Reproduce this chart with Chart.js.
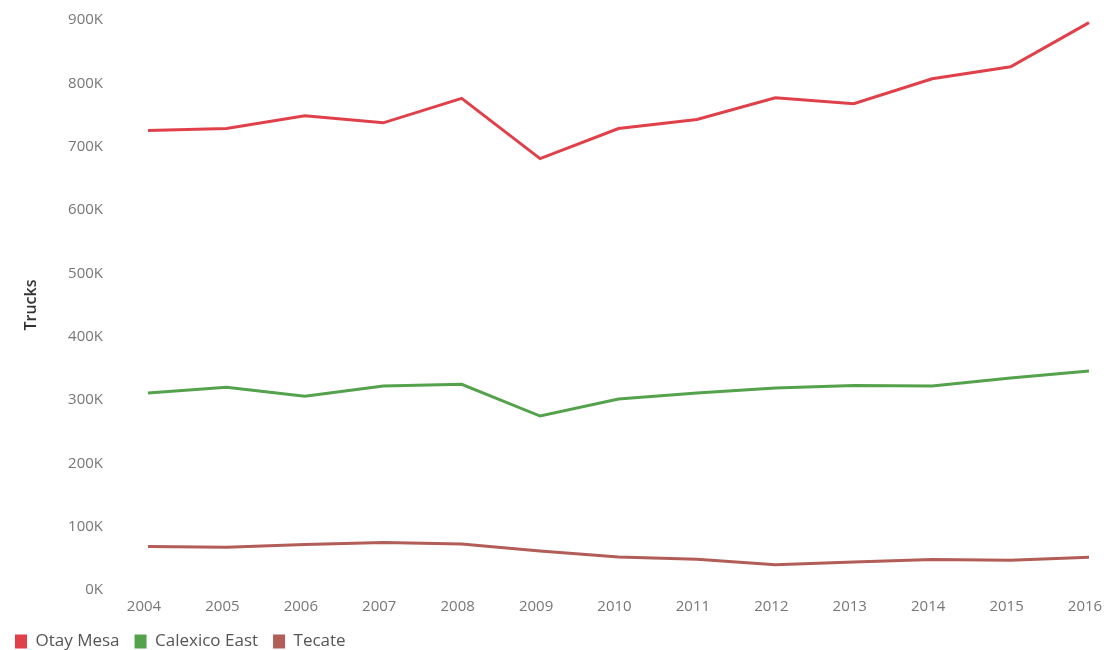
<!DOCTYPE html>
<html>
<head>
<meta charset="utf-8">
<script src="https://cdn.jsdelivr.net/npm/chart.js@4"></script>
<style>
  html, body { margin: 0; padding: 0; background: #fff; }
  #wrap { width: 1104px; height: 650px; position: relative; }
</style>
</head>
<body>
<div id="wrap"><canvas id="c" width="1104" height="650"></canvas></div>
<script>
const years = ['2004','2005','2006','2007','2008','2009','2010','2011','2012','2013','2014','2015','2016'];
const otayMesa = [725600, 728700, 748700, 737600, 776200, 681200, 728700, 742900, 777300, 767900, 807200, 826200, 895800];
const calexicoEast = [311100, 320000, 305800, 322000, 324800, 274700, 301600, 311100, 319000, 322700, 322000, 334900, 345900];
const tecate = [68500, 67500, 71700, 74900, 72800, 61700, 52200, 48500, 40000, 44300, 48000, 47000, 51700];
const yTicks = [0, 100000, 200000, 300000, 400000, 500000, 600000, 700000, 800000, 900000];

const tickFont = { family: 'Open Sans', size: 15 };

new Chart(document.getElementById('c'), {
  type: 'line',
  data: {
    labels: years,
    datasets: [
      { label: 'Otay Mesa', data: otayMesa, borderColor: '#e0404a', backgroundColor: '#e0404a' },
      { label: 'Calexico East', data: calexicoEast, borderColor: '#55a24c', backgroundColor: '#55a24c' },
      { label: 'Tecate', data: tecate, borderColor: '#b25d57', backgroundColor: '#b25d57' }
    ]
  },
  options: {
    responsive: false,
    animation: false,
    layout: { padding: { top: 20, right: 15, left: 0, bottom: -10 } },
    elements: {
      line: { borderWidth: 3, tension: 0 },
      point: { radius: 0 }
    },
    plugins: {
      tooltip: { enabled: false },
      legend: {
        position: 'bottom',
        align: 'start',
        labels: {
          boxWidth: 12,
          boxHeight: 14,
          padding: 15,
          color: '#555',
          font: { family: 'Open Sans', size: 17 },
          generateLabels(chart) {
            return chart.data.datasets.map((d, i) => ({
              text: d.label,
              fillStyle: d.borderColor,
              strokeStyle: d.borderColor,
              lineWidth: 0,
              fontColor: '#555',
              datasetIndex: i
            }));
          }
        }
      }
    },
    scales: {
      x: {
        offset: false,
        grid: { display: false, drawTicks: false },
        border: { display: false },
        ticks: { color: '#777', font: tickFont, padding: 8, maxRotation: 0, autoSkip: false, labelOffset: -4 },
        afterFit(scale) { scale.height = 28; scale.paddingLeft = 0; scale.paddingRight = 0; }
      },
      y: {
        min: 0,
        max: 900000,
        grid: { display: false, drawTicks: false },
        border: { display: false },
        afterBuildTicks(scale) { scale.ticks = yTicks.map(v => ({ value: v })); },
        ticks: {
          color: '#777',
          font: tickFont,
          padding: 45,
          callback: v => (v / 1000) + 'K'
        },
        title: {
          display: true,
          text: 'Trucks',
          color: '#333',
          font: { family: 'Open Sans', size: 16, weight: '600' },
          padding: { top: 22, bottom: 0 }
        },
        afterFit(scale) { scale.width = 148; scale.paddingTop = 0; scale.paddingBottom = 0; }
      }
    }
  }
});
</script>
</body>
</html>
